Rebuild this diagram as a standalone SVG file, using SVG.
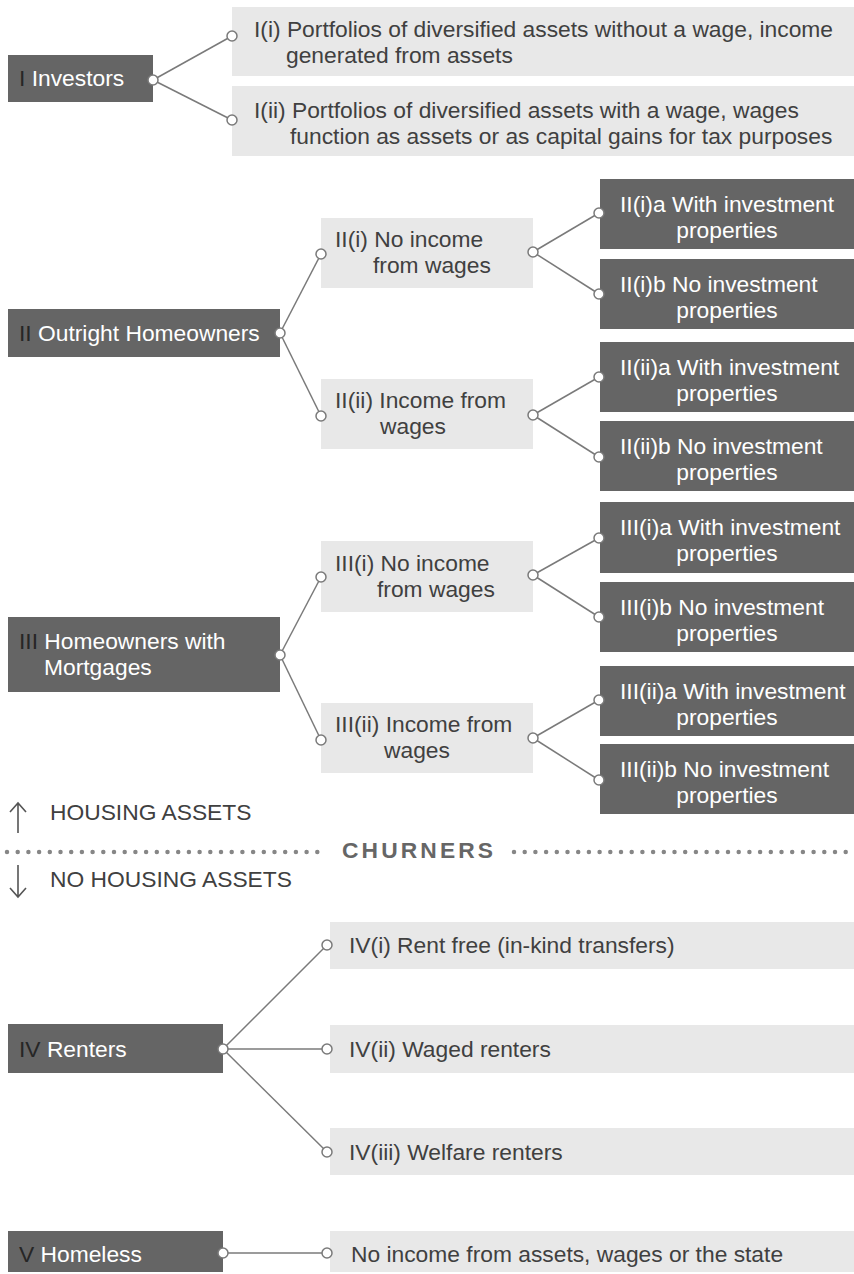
<svg xmlns="http://www.w3.org/2000/svg" width="854" height="1274" viewBox="0 0 854 1274">
<style>
text{font-family:"Liberation Sans",Arial,sans-serif;font-size:22.8px}
.dk{fill:#656565}
.lt{fill:#e8e8e8}
.wt{fill:#ffffff}
.tx{fill:#404040}
.rn{fill:#262626}
.cn line{stroke:#7a7a7a;stroke-width:1.5}
.cn circle{fill:#ffffff;stroke:#7a7a7a;stroke-width:1.5}
.mid{text-anchor:middle}
</style>
<rect width="854" height="1274" fill="#ffffff"/>

<!-- Section I -->
<g id="n-I"><rect class="dk" x="8" y="55" width="145" height="47"/><text x="19" y="86" class="wt"><tspan class="rn">I</tspan> Investors</text></g>
<g id="n-Ii"><rect class="lt" x="232" y="7" width="622" height="69"/><text x="254" y="37" class="tx">I(i) Portfolios of diversified assets without a wage, income</text><text x="286" y="63" class="tx">generated from assets</text></g>
<g id="n-Iii"><rect class="lt" x="232" y="86" width="622" height="70"/><text x="254" y="118" class="tx">I(ii) Portfolios of diversified assets with a wage, wages</text><text x="290" y="144" class="tx">function as assets or as capital gains for tax purposes</text></g>

<!-- Section II -->
<g id="n-II"><rect class="dk" x="8" y="309" width="272" height="48"/><text x="19" y="341" class="wt"><tspan class="rn">II</tspan> Outright Homeowners</text></g>
<g id="n-IIi"><rect class="lt" x="321" y="218" width="212" height="70"/><text x="335" y="247" class="tx">II(i) No income</text><text x="373" y="273" class="tx">from wages</text></g>
<g id="n-IIii"><rect class="lt" x="321" y="379" width="212" height="70"/><text x="335" y="408" class="tx">II(ii) Income from</text><text x="380" y="434" class="tx">wages</text></g>
<g id="n-IIia"><rect class="dk" x="600" y="179" width="254" height="70"/><text x="620" y="212" class="wt">II(i)a With investment</text><text x="727" y="238" class="wt mid">properties</text></g>
<g id="n-IIib"><rect class="dk" x="600" y="259" width="254" height="70"/><text x="620" y="292" class="wt">II(i)b No investment</text><text x="727" y="318" class="wt mid">properties</text></g>
<g id="n-IIiia"><rect class="dk" x="600" y="342" width="254" height="70"/><text x="620" y="375" class="wt">II(ii)a With investment</text><text x="727" y="401" class="wt mid">properties</text></g>
<g id="n-IIiib"><rect class="dk" x="600" y="421" width="254" height="70"/><text x="620" y="454" class="wt">II(ii)b No investment</text><text x="727" y="480" class="wt mid">properties</text></g>

<!-- Section III -->
<g id="n-III"><rect class="dk" x="8" y="617" width="272" height="75"/><text x="19" y="649" class="wt"><tspan class="rn">III</tspan> Homeowners with</text><text x="44" y="675" class="wt">Mortgages</text></g>
<g id="n-IIIi"><rect class="lt" x="321" y="541" width="212" height="71"/><text x="335" y="571" class="tx">III(i) No income</text><text x="377" y="597" class="tx">from wages</text></g>
<g id="n-IIIii"><rect class="lt" x="321" y="703" width="212" height="70"/><text x="335" y="732" class="tx">III(ii) Income from</text><text x="384" y="758" class="tx">wages</text></g>
<g id="n-IIIia"><rect class="dk" x="600" y="502" width="254" height="71"/><text x="620" y="535" class="wt">III(i)a With investment</text><text x="727" y="561" class="wt mid">properties</text></g>
<g id="n-IIIib"><rect class="dk" x="600" y="582" width="254" height="70"/><text x="620" y="615" class="wt">III(i)b No investment</text><text x="727" y="641" class="wt mid">properties</text></g>
<g id="n-IIIiia"><rect class="dk" x="600" y="666" width="254" height="70"/><text x="620" y="699" class="wt">III(ii)a With investment</text><text x="727" y="725" class="wt mid">properties</text></g>
<g id="n-IIIiib"><rect class="dk" x="600" y="744" width="254" height="70"/><text x="620" y="777" class="wt">III(ii)b No investment</text><text x="727" y="803" class="wt mid">properties</text></g>

<!-- Divider -->
<g id="divider">
<path d="M18 833 V804 M10 812 L18 803 L26 812" fill="none" stroke="#555" stroke-width="1.6"/>
<text x="50" y="820" class="tx" font-size="22px">HOUSING ASSETS</text>
<line x1="7" y1="852" x2="322" y2="852" stroke="#868686" stroke-width="4.5" stroke-linecap="round" stroke-dasharray="0 10.7"/>
<text x="342" y="858" fill="#666" font-weight="bold" textLength="151" lengthAdjust="spacing">CHURNERS</text>
<line x1="514" y1="852" x2="854" y2="852" stroke="#868686" stroke-width="4.5" stroke-linecap="round" stroke-dasharray="0 10.7"/>
<path d="M18 865 V896 M10 888 L18 897 L26 888" fill="none" stroke="#555" stroke-width="1.6"/>
<text x="50" y="887" class="tx" font-size="22px">NO HOUSING ASSETS</text>
</g>

<!-- Section IV -->
<g id="n-IV"><rect class="dk" x="8" y="1024" width="215" height="49"/><text x="19" y="1057" class="wt"><tspan class="rn">IV</tspan> Renters</text></g>
<g id="n-IVi"><rect class="lt" x="330" y="922" width="524" height="47"/><text x="349" y="953" class="tx">IV(i) Rent free (in-kind transfers)</text></g>
<g id="n-IVii"><rect class="lt" x="330" y="1025" width="524" height="48"/><text x="349" y="1057" class="tx">IV(ii) Waged renters</text></g>
<g id="n-IViii"><rect class="lt" x="330" y="1128" width="524" height="47"/><text x="349" y="1160" class="tx">IV(iii) Welfare renters</text></g>

<!-- Section V -->
<g id="n-V"><rect class="dk" x="8" y="1231" width="215" height="41"/><text x="19" y="1262" class="wt"><tspan class="rn">V</tspan> Homeless</text></g>
<g id="n-Vi"><rect class="lt" x="330" y="1231" width="524" height="41"/><text x="351" y="1262" class="tx">No income from assets, wages or the state</text></g>

<!-- Connectors -->
<g id="connectors" class="cn">
<line x1="153" y1="80" x2="232" y2="36"/><line x1="153" y1="80" x2="232" y2="120"/>
<line x1="280" y1="333" x2="321" y2="254"/><line x1="280" y1="333" x2="321" y2="416"/>
<line x1="533" y1="252" x2="599" y2="213"/><line x1="533" y1="252" x2="599" y2="294"/>
<line x1="533" y1="415" x2="599" y2="377"/><line x1="533" y1="415" x2="599" y2="457"/>
<line x1="280" y1="655" x2="321" y2="577"/><line x1="280" y1="655" x2="321" y2="740"/>
<line x1="533" y1="575" x2="599" y2="538"/><line x1="533" y1="575" x2="599" y2="617"/>
<line x1="533" y1="738" x2="599" y2="700"/><line x1="533" y1="738" x2="599" y2="780"/>
<line x1="223" y1="1049" x2="327" y2="945"/><line x1="223" y1="1049" x2="327" y2="1049"/><line x1="223" y1="1049" x2="327" y2="1152"/>
<line x1="223" y1="1253" x2="327" y2="1253"/>
<circle cx="153" cy="80" r="5"/><circle cx="232" cy="36" r="5"/><circle cx="232" cy="120" r="5"/>
<circle cx="280" cy="333" r="5"/><circle cx="321" cy="254" r="5"/><circle cx="321" cy="416" r="5"/>
<circle cx="533" cy="252" r="5"/><circle cx="599" cy="213" r="5"/><circle cx="599" cy="294" r="5"/>
<circle cx="533" cy="415" r="5"/><circle cx="599" cy="377" r="5"/><circle cx="599" cy="457" r="5"/>
<circle cx="280" cy="655" r="5"/><circle cx="321" cy="577" r="5"/><circle cx="321" cy="740" r="5"/>
<circle cx="533" cy="575" r="5"/><circle cx="599" cy="538" r="5"/><circle cx="599" cy="617" r="5"/>
<circle cx="533" cy="738" r="5"/><circle cx="599" cy="700" r="5"/><circle cx="599" cy="780" r="5"/>
<circle cx="223" cy="1049" r="5"/><circle cx="327" cy="945" r="5"/><circle cx="327" cy="1049" r="5"/><circle cx="327" cy="1152" r="5"/>
<circle cx="223" cy="1253" r="5"/><circle cx="327" cy="1253" r="5"/>
</g>
</svg>
